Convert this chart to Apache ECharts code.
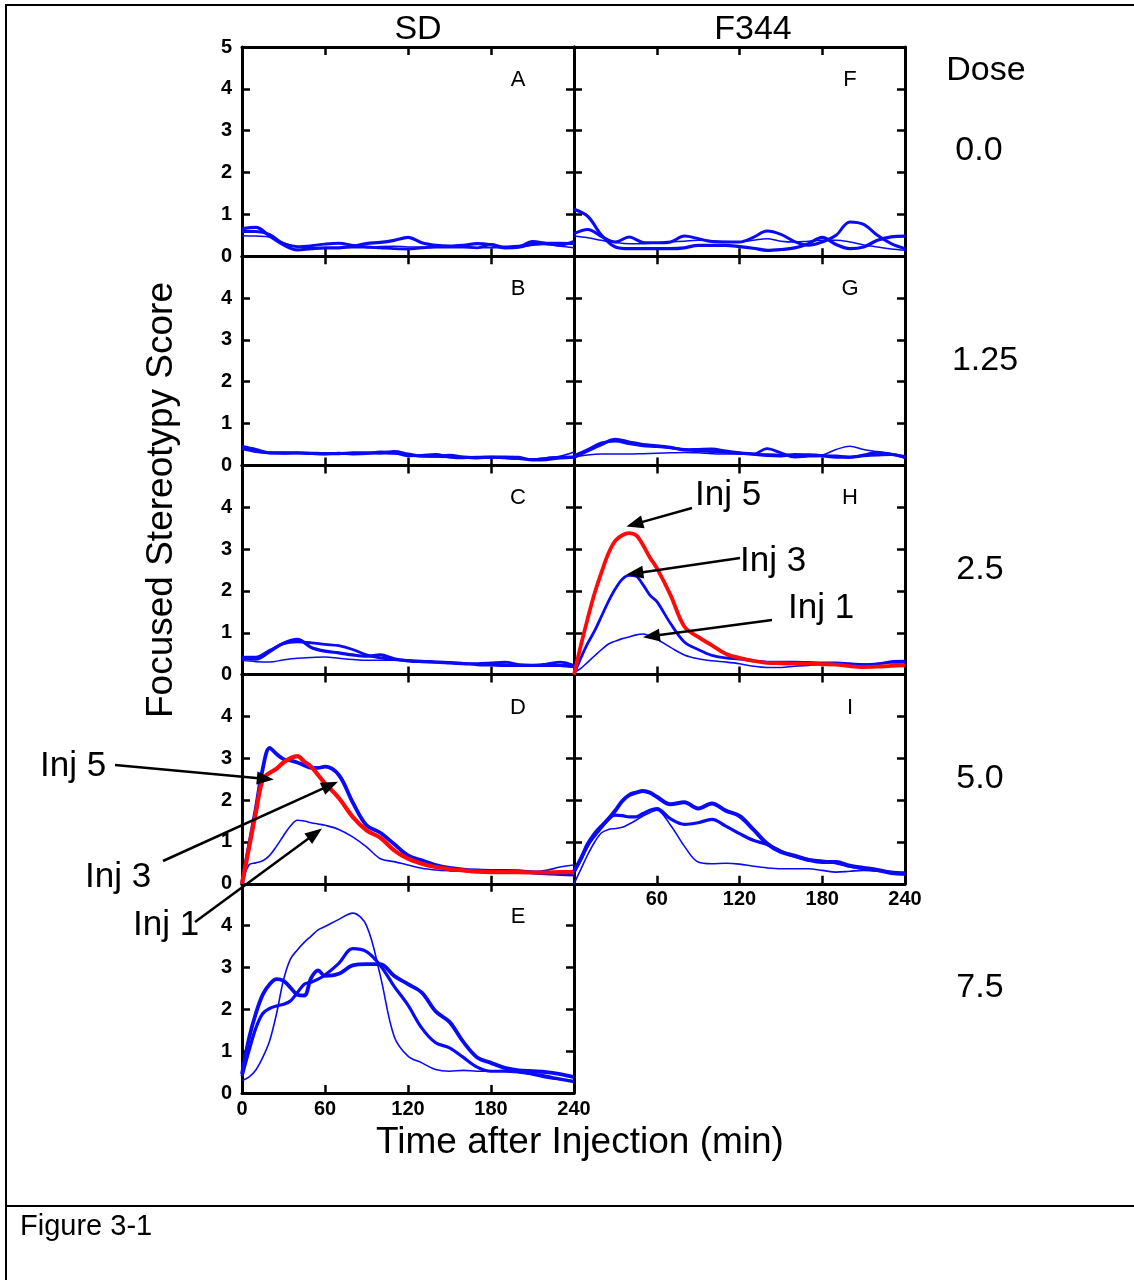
<!DOCTYPE html>
<html><head><meta charset="utf-8">
<script src="https://cdn.jsdelivr.net/npm/echarts@6/dist/echarts.min.js"></script>
<style>html,body{margin:0;padding:0;background:#fff}#c{width:1134px;height:1280px}</style>
</head><body><div id="c"></div>
<script>
// ---------- data ----------
const TIME_COARSE = [0,10,20,30,40,50,60,70,80,90,100,110,120,130,140,150,160,170,180,190,200,210,220,230,240];
const TIME_FINE = [0,5,10,15,20,25,30,35,40,45,50,55,60,70,80,90,100,110,120,130,140,150,160,170,180,190,200,210,220,230,240];
const X_TICKS = [0,60,120,180,240];
const Y_TICKS = [0,1,2,3,4,5];
const STRAINS = ['SD','F344'];
const DOSES = ['0.0','1.25','2.5','5.0','7.5'];

// SD, dose 0.0 (A)
const A_INJ1 = [0.49,0.48,0.46,0.32,0.22,0.2,0.2,0.2,0.2,0.2,0.23,0.24,0.22,0.22,0.22,0.22,0.22,0.2,0.2,0.2,0.2,0.27,0.28,0.24,0.2];
const A_INJ3 = [0.59,0.59,0.52,0.3,0.23,0.25,0.29,0.31,0.26,0.22,0.2,0.18,0.17,0.2,0.22,0.22,0.22,0.2,0.28,0.22,0.24,0.28,0.31,0.31,0.3];
const A_INJ5 = [0.66,0.69,0.48,0.27,0.15,0.18,0.2,0.2,0.24,0.3,0.33,0.38,0.45,0.32,0.26,0.24,0.26,0.3,0.27,0.2,0.22,0.35,0.3,0.27,0.35];
// SD, dose 1.25 (B)
const B_INJ1 = [0.42,0.35,0.31,0.31,0.3,0.29,0.28,0.27,0.28,0.29,0.28,0.27,0.25,0.22,0.2,0.19,0.2,0.19,0.18,0.17,0.15,0.15,0.18,0.22,0.32];
const B_INJ3 = [0.4,0.33,0.3,0.29,0.3,0.28,0.27,0.29,0.27,0.28,0.32,0.3,0.23,0.24,0.26,0.2,0.18,0.2,0.2,0.18,0.16,0.14,0.17,0.2,0.2];
const B_INJ5 = [0.45,0.38,0.3,0.3,0.3,0.29,0.28,0.28,0.3,0.3,0.3,0.33,0.27,0.22,0.22,0.24,0.2,0.18,0.2,0.2,0.19,0.13,0.14,0.18,0.2];
// SD, dose 2.5 (C)
const C_INJ1 = [0.34,0.31,0.3,0.35,0.39,0.41,0.42,0.39,0.36,0.34,0.34,0.34,0.33,0.31,0.3,0.28,0.26,0.26,0.26,0.25,0.23,0.22,0.21,0.2,0.18];
const C_INJ3 = [0.42,0.42,0.58,0.74,0.78,0.76,0.72,0.69,0.6,0.47,0.4,0.36,0.34,0.32,0.3,0.29,0.27,0.26,0.28,0.3,0.24,0.22,0.25,0.3,0.22];
const C_INJ5 = [0.39,0.37,0.55,0.75,0.84,0.65,0.56,0.52,0.47,0.44,0.47,0.38,0.33,0.31,0.3,0.28,0.26,0.24,0.23,0.22,0.22,0.22,0.22,0.22,0.19];
// SD, dose 5.0 (D)
const D_INJ1 = [0,0.45,0.5,0.55,0.68,0.9,1.15,1.38,1.52,1.5,1.46,1.43,1.4,1.3,1.12,0.88,0.6,0.53,0.45,0.37,0.33,0.31,0.3,0.29,0.28,0.28,0.28,0.29,0.32,0.4,0.45];
const D_INJ3 = [0,0.9,1.8,2.75,3.25,3.1,2.98,2.95,2.9,2.83,2.77,2.77,2.8,2.6,1.95,1.4,1.22,0.95,0.68,0.56,0.45,0.38,0.34,0.32,0.31,0.31,0.3,0.27,0.25,0.23,0.22];
const D_INJ5 = [0,0.85,1.7,2.5,2.65,2.75,2.9,3.0,3.05,2.92,2.8,2.6,2.4,2.05,1.6,1.28,1.1,0.8,0.6,0.48,0.4,0.35,0.32,0.29,0.28,0.28,0.28,0.27,0.27,0.28,0.28];
// SD, dose 7.5 (E)
const E_INJ1 = [0.3,0.38,0.55,0.85,1.25,1.9,2.7,3.2,3.42,3.6,3.75,3.9,3.98,4.15,4.3,4.0,2.8,1.35,0.88,0.72,0.56,0.52,0.54,0.52,0.52,0.54,0.5,0.43,0.36,0.32,0.3];
const E_INJ3 = [0.4,1.0,1.55,1.9,2.02,2.08,2.12,2.2,2.4,2.6,2.65,2.72,2.82,3.1,3.45,3.38,3.05,2.55,2.1,1.55,1.2,1.08,0.85,0.62,0.52,0.52,0.5,0.46,0.4,0.33,0.27];
const E_INJ5 = [0.45,1.3,1.9,2.35,2.6,2.72,2.68,2.52,2.35,2.33,2.75,2.93,2.8,2.85,3.05,3.08,3.08,2.8,2.6,2.4,1.95,1.7,1.22,0.85,0.72,0.6,0.54,0.52,0.5,0.45,0.38];
// F344, dose 0.0 (F)
const F_INJ1 = [0.48,0.44,0.38,0.33,0.3,0.3,0.32,0.34,0.36,0.38,0.37,0.35,0.34,0.38,0.42,0.36,0.34,0.36,0.38,0.38,0.34,0.27,0.22,0.17,0.14];
const F_INJ3 = [0.54,0.64,0.47,0.34,0.46,0.33,0.32,0.34,0.48,0.42,0.35,0.34,0.34,0.45,0.6,0.52,0.35,0.26,0.34,0.5,0.82,0.76,0.5,0.3,0.18];
const F_INJ5 = [1.12,0.95,0.5,0.22,0.18,0.18,0.18,0.18,0.2,0.26,0.26,0.26,0.23,0.19,0.14,0.16,0.2,0.3,0.45,0.28,0.18,0.22,0.38,0.46,0.48];
// F344, dose 1.25 (G)
const G_INJ1 = [0.2,0.25,0.27,0.27,0.27,0.28,0.29,0.3,0.31,0.3,0.28,0.27,0.27,0.27,0.27,0.26,0.24,0.23,0.25,0.38,0.46,0.38,0.33,0.28,0.23];
const G_INJ3 = [0.23,0.38,0.54,0.58,0.52,0.47,0.45,0.42,0.38,0.35,0.33,0.31,0.29,0.27,0.4,0.3,0.2,0.22,0.23,0.23,0.19,0.25,0.31,0.27,0.19];
const G_INJ5 = [0.19,0.35,0.5,0.62,0.56,0.5,0.47,0.43,0.37,0.38,0.39,0.34,0.3,0.27,0.24,0.23,0.26,0.25,0.23,0.2,0.2,0.23,0.25,0.26,0.19];
// F344, dose 2.5 (H)
const H_INJ1 = [0.05,0.15,0.3,0.45,0.6,0.73,0.8,0.86,0.9,0.95,0.97,0.92,0.85,0.65,0.47,0.38,0.33,0.3,0.26,0.2,0.17,0.17,0.2,0.22,0.24,0.24,0.24,0.25,0.27,0.28,0.28];
const H_INJ3 = [0,0.4,0.75,1.05,1.4,1.75,2.05,2.28,2.37,2.35,2.15,1.9,1.75,1.22,0.78,0.6,0.46,0.4,0.37,0.33,0.3,0.3,0.3,0.29,0.28,0.28,0.26,0.24,0.25,0.31,0.32];
const H_INJ5 = [0,0.7,1.35,1.95,2.45,2.9,3.2,3.33,3.38,3.33,3.1,2.8,2.55,1.9,1.15,0.9,0.7,0.5,0.4,0.33,0.28,0.27,0.26,0.26,0.25,0.24,0.2,0.18,0.19,0.21,0.22];
// F344, dose 5.0 (I)
const I_INJ1 = [0,0.35,0.7,1.0,1.22,1.3,1.32,1.35,1.43,1.52,1.62,1.7,1.76,1.4,0.9,0.52,0.48,0.49,0.47,0.42,0.38,0.36,0.36,0.36,0.32,0.28,0.3,0.32,0.31,0.28,0.25];
const I_INJ3 = [0.28,0.6,0.92,1.15,1.35,1.55,1.64,1.63,1.6,1.6,1.68,1.76,1.8,1.55,1.42,1.46,1.54,1.38,1.2,1.04,0.94,0.78,0.66,0.58,0.54,0.5,0.42,0.36,0.32,0.28,0.26];
const I_INJ5 = [0.3,0.6,0.95,1.2,1.38,1.55,1.75,1.98,2.12,2.18,2.22,2.18,2.08,1.9,1.95,1.8,1.92,1.75,1.62,1.3,0.96,0.76,0.67,0.57,0.52,0.52,0.43,0.38,0.33,0.26,0.24];

// ---------- layout / style ----------
const FONT = '"Liberation Sans", Arial, Helvetica, sans-serif';
const BLUE = '#0a0af5', RED = '#ff0a0a';
const COL_LEFT = [242, 574], COL_W = [332, 331];
const ROW_TOP0 = 47, ROW_H = 209.2;

const PANELS = [
  {id:'A', col:0, row:0, t:TIME_COARSE, s:[A_INJ1,A_INJ3,A_INJ5], w:[1.5,2.8,3.2]},
  {id:'B', col:0, row:1, t:TIME_COARSE, s:[B_INJ1,B_INJ3,B_INJ5], w:[1.5,2.8,3.2]},
  {id:'C', col:0, row:2, t:TIME_COARSE, s:[C_INJ1,C_INJ3,C_INJ5], w:[1.5,2.8,3.2]},
  {id:'D', col:0, row:3, t:TIME_FINE,   s:[D_INJ1,D_INJ3,D_INJ5], w:[1.6,3.8,4.2], red:true},
  {id:'E', col:0, row:4, t:TIME_FINE,   s:[E_INJ1,E_INJ3,E_INJ5], w:[1.6,3.2,3.8]},
  {id:'F', col:1, row:0, t:TIME_COARSE, s:[F_INJ1,F_INJ3,F_INJ5], w:[1.5,3,3.2]},
  {id:'G', col:1, row:1, t:TIME_COARSE, s:[G_INJ1,G_INJ3,G_INJ5], w:[1.5,2.8,3.2]},
  {id:'H', col:1, row:2, t:TIME_FINE,   s:[H_INJ1,H_INJ3,H_INJ5], w:[1.6,2.8,3.8], red:true},
  {id:'I', col:1, row:3, t:TIME_FINE,   s:[I_INJ1,I_INJ3,I_INJ5], w:[1.6,3.2,4]}
];

// annotation: tip given in data coords of panel, text & tail in page pixels
const ANNOTATIONS = [
  {panel:'H', text:'Inj 5', tip:[38,3.54], tail:[692,508], textPos:[695,495]},
  {panel:'H', text:'Inj 3', tip:[38,2.39], tail:[740,558], textPos:[740,561]},
  {panel:'H', text:'Inj 1', tip:[50,0.89], tail:[772,620], textPos:[788,608]},
  {panel:'D', text:'Inj 5', tip:[23,2.49], tail:[115,765], textPos:[40,766]},
  {panel:'D', text:'Inj 3', tip:[69.4,2.44], tail:[163,861], textPos:[85,877]},
  {panel:'D', text:'Inj 1', tip:[57.8,1.32], tail:[195,922], textPos:[133,925]}
];

const grid = [], xAxis = [], yAxis = [], series = [];
const tickLine = {color:'#000', width:2.5};
const axisLineStyle = {color:'#000', width:3};
const labelStyle = {fontSize:20, fontWeight:'bold', color:'#000', fontFamily:FONT};

PANELS.forEach((p, i) => {
  grid.push({left:COL_LEFT[p.col], top:ROW_TOP0 + p.row*ROW_H, width:COL_W[p.col], height:ROW_H, show:false, containLabel:false});
  const showX = (p.id === 'E' || p.id === 'I');
  const xBase = {gridIndex:i, type:'value', min:X_TICKS[0], max:X_TICKS[X_TICKS.length-1], interval:X_TICKS[1]-X_TICKS[0],
    splitLine:{show:false}, axisLine:{show:true, onZero:false, lineStyle:axisLineStyle},
    axisTick:{show:true, inside:true, length:8, lineStyle:tickLine}};
  xAxis.push(Object.assign({}, xBase, {position:'bottom',
    axisLabel:Object.assign({show:showX, showMinLabel:p.id==='E', showMaxLabel:true, margin:6}, labelStyle)}));
  xAxis.push(Object.assign({}, xBase, {position:'top', axisLabel:{show:false}}));
  const yBase = {gridIndex:i, type:'value', min:Y_TICKS[0], max:Y_TICKS[Y_TICKS.length-1], interval:1,
    splitLine:{show:false}, axisLine:{show:true, onZero:false, lineStyle:axisLineStyle},
    axisTick:{show:true, inside:true, length:8, lineStyle:tickLine}};
  yAxis.push(Object.assign({}, yBase, {position:'left',
    axisLabel:Object.assign({show:p.col===0, showMinLabel:true, showMaxLabel:p.row===0, margin:10}, labelStyle)}));
  yAxis.push(Object.assign({}, yBase, {position:'right', axisLabel:{show:false}}));
  ['Inj 1','Inj 3','Inj 5'].forEach((nm, k) => {
    const color = (p.red && k === 2) ? RED : BLUE;
    series.push({type:'line', name:p.id+' '+nm, xAxisIndex:2*i, yAxisIndex:2*i,
      data:p.t.map((t, j) => [t, p.s[k][j]]), smooth:0.35, symbol:'none', showSymbol:false,
      lineStyle:{color:color, width:p.w[k]}, silent:true, z:2+k});
  });
});

const chart = echarts.init(document.getElementById('c'), null, {renderer:'canvas'});
chart.setOption({animation:false, backgroundColor:'#fff', grid, xAxis, yAxis, series});

// ---------- text & frame graphics ----------
const g = [];
function txt(s, x, y, size, opts) {
  g.push(Object.assign({type:'text', x:x, y:y, silent:true, z:10,
    style:{text:s, fontSize:size, fontFamily:FONT, fill:'#000', align:'center', verticalAlign:'middle'}}, opts || {}));
}
function ln(x1, y1, x2, y2, w) {
  g.push({type:'line', silent:true, z:10, shape:{x1,y1,x2,y2}, style:{stroke:'#000', lineWidth:w}});
}
// outer frame
ln(6, 5, 1134, 5, 2);
ln(6, 4, 6, 1280, 2);
ln(6, 1206, 1134, 1206, 2);
// column titles
txt(STRAINS[0], 418, 30, 34);
txt(STRAINS[1], 753, 30, 34);
txt('Dose', 986, 71, 34);
const doseX = [979, 985, 980, 980, 980];
DOSES.forEach((d, r) => txt(d, doseX[r], 151 + r*ROW_H, 34));
// panel letters
PANELS.forEach(p => txt(p.id, p.col === 0 ? 518 : 850, ROW_TOP0 + p.row*ROW_H + 33, 22));
// axis titles
txt('Focused Stereotypy Score', 162, 500, 37, {rotation:Math.PI/2});
txt('Time after Injection (min)', 580, 1143, 37);
g.push({type:'text', x:20, y:1227, silent:true, z:10,
  style:{text:'Figure 3-1', fontSize:29, fontFamily:FONT, fill:'#000', align:'left', verticalAlign:'middle'}});
// annotations with arrows
ANNOTATIONS.forEach(a => {
  const gi = PANELS.findIndex(p => p.id === a.panel);
  const tip = chart.convertToPixel({gridIndex:gi}, a.tip);
  const dx = tip[0] - a.tail[0], dy = tip[1] - a.tail[1];
  const L = Math.sqrt(dx*dx + dy*dy), ux = dx/L, uy = dy/L;
  const hl = 17, hw = 6.5;
  const bx = tip[0] - ux*hl, by = tip[1] - uy*hl;
  ln(a.tail[0], a.tail[1], bx + ux*2, by + uy*2, 2.5);
  g.push({type:'polygon', silent:true, z:11, shape:{points:[[tip[0],tip[1]],[bx - uy*hw, by + ux*hw],[bx + uy*hw, by - ux*hw]]}, style:{fill:'#000'}});
  g.push({type:'text', x:a.textPos[0], y:a.textPos[1], silent:true, z:12,
    style:{text:a.text, fontSize:35, fontFamily:FONT, fill:'#000', align:'left', verticalAlign:'middle'}});
});
chart.setOption({graphic:g});
</script>
</body></html>
